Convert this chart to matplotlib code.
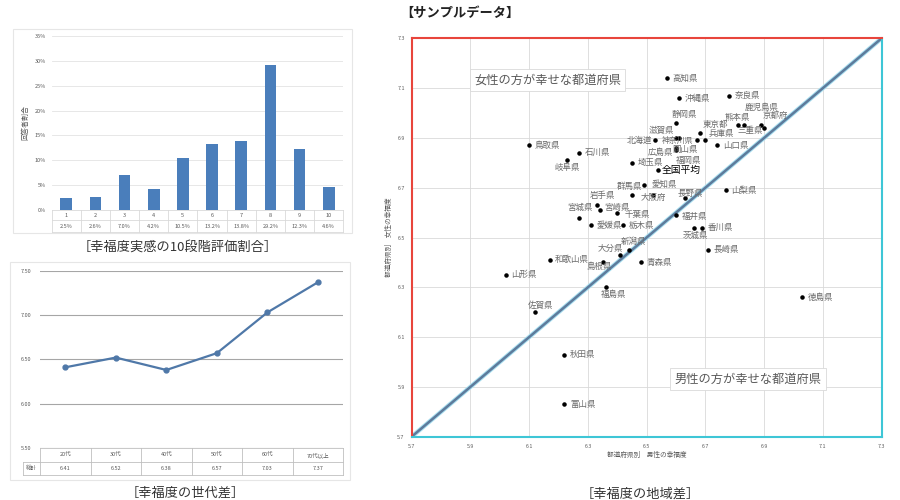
import matplotlib.pyplot as plt
from matplotlib.patches import Rectangle
import numpy as np

plt.rcParams['font.family'] = ['Noto Sans CJK JP', 'DejaVu Sans']

# 幸福度実感の10段階評価割合 (%)
score_levels = ['1', '2', '3', '4', '5', '6', '7', '8', '9', '10']
score_share = [2.5, 2.6, 7.0, 4.2, 10.5, 13.2, 13.8, 29.2, 12.3, 4.6]

# 幸福度の世代差
age_groups = ['20代', '30代', '40代', '50代', '60代', '70代以上']
age_happiness = [6.41, 6.52, 6.38, 6.57, 7.03, 7.37]

# 幸福度の地域差 (男性, 女性)
prefs = ['高知県', '沖縄県', '奈良県', '静岡県', '熊本県', '鹿児島県', '京都府', '三重県',
         '東京都', '神奈川県', '兵庫県', '山口県', '滋賀県', '北海道', '岡山県', '広島県',
         '福岡県', '鳥取県', '石川県', '岐阜県', '埼玉県', '全国平均', '群馬県', '愛知県',
         '大阪府', '岩手県', '宮城県', '宮崎県', '千葉県', '愛媛県', '栃木県', '長野県',
         '山梨県', '福井県', '茨城県', '香川県', '長崎県', '新潟県', '大分県', '和歌山県',
         '島根県', '青森県', '山形県', '福島県', '徳島県', '佐賀県', '秋田県', '富山県']
male = [6.57, 6.61, 6.78, 6.60, 6.81, 6.83, 6.89, 6.90,
        6.68, 6.67, 6.70, 6.74, 6.60, 6.53, 6.61, 6.60,
        6.60, 6.10, 6.27, 6.23, 6.45, 6.54, 6.49, 6.52,
        6.45, 6.33, 6.27, 6.34, 6.40, 6.31, 6.42, 6.63,
        6.77, 6.60, 6.66, 6.69, 6.71, 6.44, 6.41, 6.17,
        6.35, 6.48, 6.02, 6.36, 7.03, 6.12, 6.22, 6.22]
female = [7.14, 7.06, 7.07, 6.96, 6.95, 6.95, 6.95, 6.94,
          6.92, 6.89, 6.89, 6.87, 6.90, 6.89, 6.90, 6.86,
          6.85, 6.87, 6.84, 6.81, 6.80, 6.77, 6.71, 6.67,
          6.67, 6.63, 6.58, 6.61, 6.60, 6.55, 6.55, 6.66,
          6.69, 6.59, 6.54, 6.54, 6.45, 6.45, 6.43, 6.41,
          6.40, 6.40, 6.35, 6.30, 6.26, 6.20, 6.03, 5.83]

# ラベル位置 (dx, dy [pt], ha) 指定なしは右側
label_pos = {
    '北海道': (-2.5, 0, 'right'), '神奈川県': (-2, 0, 'right'), '滋賀県': (-1, 5.5, 'right'),
    '静岡県': (6, 6, 'center'), '東京都': (2, 6, 'left'), '兵庫県': (2, 5, 'left'),
    '岡山県': (4, -8.5, 'center'), '熊本県': (0, 6, 'center'), '鹿児島県': (1, 13, 'left'),
    '京都府': (1, 7, 'left'), '三重県': (-1, -2, 'right'), '広島県': (-2, -3, 'right'),
    '福岡県': (0, -7.5, 'left'), '岐阜県': (0, -5, 'center'), '群馬県': (-1, -1, 'right'),
    '愛知県': (-1, 8, 'left'), '大阪府': (6, -2, 'left'), '岩手県': (4.5, 7, 'center'),
    '宮城県': (1, 7, 'center'), '宮崎県': (3, 2, 'left'), '千葉県': (5, -1.5, 'left'),
    '長野県': (4, 3, 'center'),
    '福井県': (4, -1, 'left'), '茨城県': (1.5, -6, 'center'), '新潟県': (3, 6, 'center'),
    '大分県': (-7, 5, 'center'), '島根県': (-2.5, -3, 'center'), '福島県': (6, -5, 'center'),
    '佐賀県': (4, 5, 'center'),
}

fig = plt.figure(figsize=(9, 5), dpi=100)
grey = '#595959'

# パネル枠
fig.add_artist(Rectangle((0.0141, 0.5334), 0.3767, 0.408, transform=fig.transFigure,
                         fill=False, edgecolor='#e6e6e6', lw=0.8))
fig.add_artist(Rectangle((0.0111, 0.04), 0.3778, 0.436, transform=fig.transFigure,
                         fill=False, edgecolor='#e6e6e6', lw=0.8))

# ---- 棒グラフ ----
ax1 = fig.add_axes([0.0574, 0.58, 0.324, 0.348])
idx = np.arange(len(score_levels))
ax1.bar(idx, score_share, width=0.4, color='#4a7ebb', zorder=3)
ax1.set_xlim(-0.5, len(score_levels) - 0.5)
ax1.set_ylim(0, 35)
ax1.set_yticks(np.arange(0, 36, 5))
ax1.set_yticklabels([f'{t}%' for t in range(0, 36, 5)])
ax1.set_xticks([])
ax1.tick_params(axis='y', labelsize=4, length=0, colors=grey, pad=4)
ax1.grid(axis='y', color='#e3e3e3', lw=0.6, zorder=0)
for s in ax1.spines.values():
    s.set_visible(False)
ax1.set_ylabel('回答者割合', fontsize=5, color=grey, labelpad=4)
tr = ax1.get_xaxis_transform()
for i, (lv, v) in enumerate(zip(score_levels, score_share)):
    ax1.text(i, -0.03, lv, transform=tr, ha='center', va='center', fontsize=4, color=grey)
    ax1.text(i, -0.092, f'{v:.1f}%', transform=tr, ha='center', va='center', fontsize=4, color=grey)
for b in np.arange(-0.5, len(score_levels)):
    ax1.plot([b, b], [0, -0.125], transform=tr, color='#d9d9d9', lw=0.6, clip_on=False)
for yy in [0, -0.058, -0.125]:
    ax1.plot([-0.5, len(score_levels) - 0.5], [yy, yy], transform=tr, color='#d9d9d9', lw=0.6, clip_on=False)
fig.text(177.5 / 900, 1 - 247 / 500, '［幸福度実感の10段階評価割合］', ha='center', va='center',
         fontsize=9.5, color='#333333')

# ---- 折れ線グラフ ----
ax2 = fig.add_axes([0.0444, 0.104, 0.337, 0.3546])
ax2.plot(range(len(age_groups)), age_happiness, color='#4f78a8', lw=1.6, marker='o', ms=3.5, zorder=3)
ax2.set_xlim(-0.5, len(age_groups) - 0.5)
ax2.set_ylim(5.5, 7.5)
ax2.set_yticks(np.arange(5.5, 7.51, 0.5))
ax2.set_yticklabels([f'{t:.2f}' for t in np.arange(5.5, 7.51, 0.5)])
ax2.set_xticks([])
ax2.tick_params(axis='y', labelsize=4, length=0, colors=grey, pad=6)
ax2.grid(axis='y', color='#a6a6a6', lw=0.8, zorder=0)
for s in ax2.spines.values():
    s.set_visible(False)
tr2 = ax2.get_xaxis_transform()
n = len(age_groups)
for i, (g, v) in enumerate(zip(age_groups, age_happiness)):
    ax2.text(i, -0.038, g, transform=tr2, ha='center', va='center', fontsize=4, color=grey)
    ax2.text(i, -0.115, f'{v:.2f}', transform=tr2, ha='center', va='center', fontsize=4, color=grey)
ax2.text(-0.67, -0.115, '総計', transform=tr2, ha='center', va='center', fontsize=4, color=grey)
tcol = '#bfbfbf'
for b in np.arange(-0.5, n):
    ax2.plot([b, b], [0, -0.152], transform=tr2, color=tcol, lw=0.6, clip_on=False)
ax2.plot([-0.83, -0.83], [-0.077, -0.152], transform=tr2, color=tcol, lw=0.6, clip_on=False)
ax2.plot([-0.5, n - 0.5], [0, 0], transform=tr2, color=tcol, lw=0.6, clip_on=False)
ax2.plot([-0.83, n - 0.5], [-0.077, -0.077], transform=tr2, color=tcol, lw=0.6, clip_on=False)
ax2.plot([-0.83, n - 0.5], [-0.152, -0.152], transform=tr2, color=tcol, lw=0.6, clip_on=False)
fig.text(185 / 900, 1 - 493 / 500, '［幸福度の世代差］', ha='center', va='center',
         fontsize=9.5, color='#333333')

# ---- 散布図 ----
ax3 = fig.add_axes([0.4574, 0.1266, 0.5222, 0.7968])
lim = (5.7, 7.3)
ax3.set_xlim(lim)
ax3.set_ylim(lim)
ticks = np.arange(5.7, 7.31, 0.2)
ax3.set_xticks(ticks)
ax3.set_yticks(ticks)
ax3.set_xticklabels([f'{t:.1f}' for t in ticks])
ax3.set_yticklabels([f'{t:.1f}' for t in ticks])
ax3.tick_params(labelsize=3.8, length=0, colors=grey, pad=5)
ax3.grid(color='#d9d9d9', lw=0.6, zorder=0)
ax3.plot(lim, lim, color='#a8dff0', lw=3.2, zorder=2, solid_capstyle='butt')
ax3.plot(lim, lim, color='#5d7b9c', lw=1.8, zorder=2)
ax3.spines['left'].set_color('#e8453c')
ax3.spines['top'].set_color('#e8453c')
ax3.spines['right'].set_color('#3ec6d6')
ax3.spines['bottom'].set_color('#3ec6d6')
for s in ax3.spines.values():
    s.set_linewidth(1.5)
ax3.scatter(male, female, s=5, color='black', zorder=4)
for name, mx, fy in zip(prefs, male, female):
    dx, dy, ha = label_pos.get(name, (4, 0, 'left'))
    if name == '全国平均':
        ax3.annotate(name, (mx, fy), xytext=(2, 0), textcoords='offset points', ha='left',
                     va='center', fontsize=7, color='black', zorder=5)
    else:
        fs = 5.7 if name == '神奈川県' else 6.1
        ax3.annotate(name, (mx, fy), xytext=(dx, dy), textcoords='offset points', ha=ha,
                     va='center', fontsize=fs, color='#6b6b6b', zorder=5)
box = dict(boxstyle='square,pad=0.35', facecolor='white', edgecolor='#d9d9d9', lw=0.6)
ax3.text(0.289, 0.895, '女性の方が幸せな都道府県', transform=ax3.transAxes, ha='center', va='center',
         fontsize=8.8, color=grey, bbox=box, zorder=6)
ax3.text(0.7155, 0.1448, '男性の方が幸せな都道府県', transform=ax3.transAxes, ha='center', va='center',
         fontsize=8.8, color=grey, bbox=box, zorder=6)
ax3.set_xlabel('都道府県別　男性の幸福度', fontsize=4.8, color=grey, labelpad=2)
ax3.set_ylabel('都道府県別　女性の幸福度', fontsize=4.8, color=grey, labelpad=3)
fig.text(400 / 900, 1 - 12.5 / 500, '【サンプルデータ】', ha='left', va='center',
         fontsize=9.5, fontweight='bold', color='#222222')
fig.text(640.5 / 900, 1 - 494 / 500, '［幸福度の地域差］', ha='center', va='center',
         fontsize=9.5, color='#333333')

fig.savefig('out.png', dpi=100)
